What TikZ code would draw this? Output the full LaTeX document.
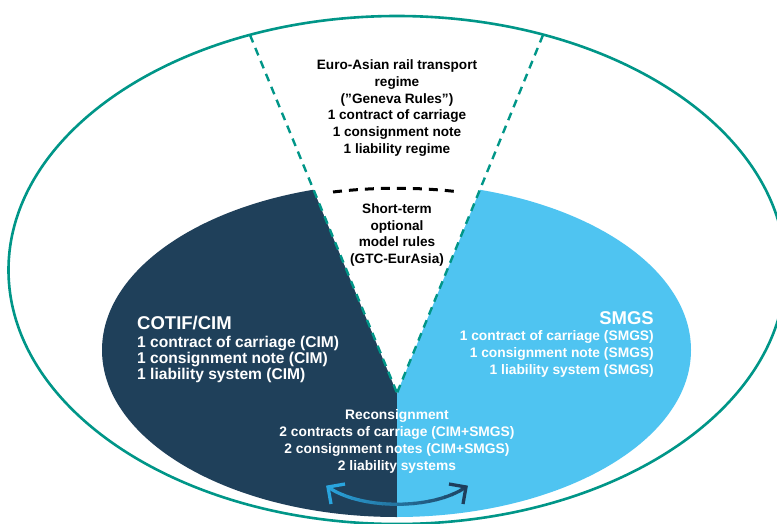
\documentclass[tikz,border=0pt]{standalone}
\usepackage{fontspec}
\setmainfont{Liberation Sans}
\usetikzlibrary{arrows.meta}
\definecolor{teal1}{RGB}{0,150,136}
\definecolor{navy1}{RGB}{31,64,90}
\definecolor{sky1}{RGB}{79,196,241}
\definecolor{arrL}{RGB}{41,165,222}
\definecolor{arrR}{RGB}{30,62,92}
\tikzset{
  blk/.style={align=center, text=black, font=\fontsize{13.6}{16.7}\selectfont\bfseries, inner sep=0pt},
  whtA/.style={text=white, font=\fontsize{15.6}{16.2}\selectfont\bfseries, inner sep=0pt},
  whtB/.style={text=white, font=\fontsize{13.8}{16.8}\selectfont\bfseries, inner sep=0pt},
  ttl/.style={text=white, font=\fontsize{18.5}{22}\selectfont\bfseries, inner sep=0pt},
  tealdash/.style={draw=teal1, line width=2.4pt, dash pattern=on 8pt off 6pt},
  blackdash/.style={draw=black, line width=3pt, dash pattern=on 9pt off 7pt},
  arrowline/.style={line width=3.3pt},
  headL/.style={draw=arrL, line width=3.3pt, line join=miter},
  headR/.style={draw=arrR, line width=3.3pt, line join=miter}
}
\begin{document}
\begin{tikzpicture}[x=1pt,y=-1pt]
\useasboundingbox (0,0) rectangle (777,524);
\clip (0,0) rectangle (777,524);
\fill[white] (0,0) rectangle (777,524);
% inner ellipse halves
\begin{scope}
  \clip (0,0) rectangle (397,524);
  \fill[navy1] (396.5,350) ellipse [x radius=294.5pt, y radius=167pt];
\end{scope}
\begin{scope}
  \clip (397,0) rectangle (777,524);
  \fill[sky1] (396.5,350) ellipse [x radius=294.5pt, y radius=167pt];
\end{scope}
% wedge
\coordinate (apex) at (397,393);
\coordinate (tl) at (250,35);
\coordinate (tr) at (543,35);
\fill[white] (apex) -- (tl) -- (tr) -- cycle;
% outer ellipse
\draw[teal1, line width=2.6pt] (397,270) ellipse [x radius=388.5pt, y radius=254pt];
% dashed wedge lines
\draw[tealdash] (tl) -- (apex);
\draw[tealdash] (tr) -- (apex);
% black dashed arc
\coordinate (bl) at (333,192);
\coordinate (br) at (460,192);
\draw[blackdash] (bl) .. controls (375,187) and (418,187) .. (br);
% texts
\node[blk] (euro) at (397,108) {Euro-Asian rail transport\\regime\\(”Geneva Rules”)\\1 contract of carriage\\1 consignment note\\1 liability regime};
\node[blk] (short) at (397,235) {Short-term\\optional\\model rules\\(GTC-EurAsia)};
\node[ttl, anchor=west] (cotif) at (137,323) {COTIF/CIM};
\node[whtA, anchor=west, align=left] (cim) at (137,359.5) {1 contract of carriage (CIM)\\1 consignment note (CIM)\\1 liability system (CIM)};
\node[ttl, anchor=east] (smgs) at (654,318) {SMGS};
\node[whtB, anchor=east, align=right] (smgsb) at (654,354) {1 contract of carriage (SMGS)\\1 consignment note (SMGS)\\1 liability system (SMGS)};
\node[whtB, align=center] (recon) at (397,441.5) {Reconsignment\\2 contracts of carriage (CIM+SMGS)\\2 consignment notes (CIM+SMGS)\\2 liability systems};
% gradient arrow
\coordinate (L) at (328,487);
\coordinate (R) at (466,487);
\foreach \i in {0,...,19}{
  \pgfmathsetmacro\xa{320+\i*7.75}
  \pgfmathsetmacro\xb{\xa+8.5}
  \pgfmathtruncatemacro\p{\i*100/19}
  \begin{scope}
    \clip (\xa,470) rectangle (\xb,520);
    \draw[arrowline, draw=arrR!\p!arrL] (L) .. controls (361,510) and (433,510) .. (R);
  \end{scope}
}
\draw[headL] (345,484) -- (L) -- (331,504);
\draw[headR] (449,484) -- (R) -- (463,504);
\end{tikzpicture}
\end{document}
